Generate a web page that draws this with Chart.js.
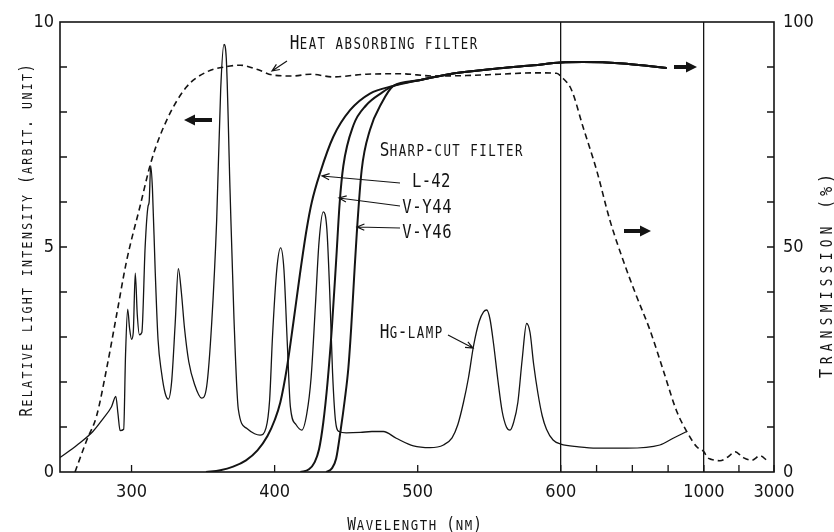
<!DOCTYPE html>
<html>
<head>
<meta charset="utf-8">
<title>Hg lamp and filters</title>
<script src="https://cdn.jsdelivr.net/npm/chart.js@4.4.1/dist/chart.umd.min.js"></script>
<style>
  html, body { margin: 0; padding: 0; background: #fff; }
  #wrap { width: 834px; height: 532px; position: relative; }
</style>
</head>
<body>
<div id="wrap"><canvas id="spectrumChart"></canvas></div>
<script>
// Hg lamp emission (left axis, arbitrary units)
const hgNm = [250, 262, 273, 280, 286, 289, 290.5, 292, 294.5, 295.8, 297.3, 298.6, 300, 301.2, 302.6, 304, 305.5, 307.2,
  309.5, 311.5, 312.3, 313.4, 314.6, 316.5, 318.5, 321, 323.5, 325.7, 328, 330.5, 332.7, 334.8, 337, 340, 344, 349,
  352.5, 356, 359.5, 362.3, 364.6, 366.2, 368.8, 371.6, 374.6, 380.4, 386, 389.8, 394, 396.5, 398.5, 401.5, 404.2,
  406.5, 408.8, 411, 415, 419, 422.5, 425.5, 428.5, 431, 434, 436.5, 438.5, 440.5, 442.5, 445, 450, 460, 468, 476,
  485, 497, 508.6, 518, 524, 528, 532, 535.5, 539, 543, 546, 548.2, 550.5, 553, 556, 559, 562, 564.5, 567, 570, 573,
  576.1, 578.5, 581, 584, 587, 590, 594.6, 600, 650, 700, 785, 877, 914, 952];
const hgIntensity = [0.32, 0.6, 0.9, 1.18, 1.45, 1.68, 1.3, 0.92, 0.95, 2.6, 3.62, 3.2, 2.95, 3.1, 4.42, 3.5, 3.05, 3.1,
  5.0, 5.9, 6.0, 6.8, 6.3, 4.5, 2.95, 2.2, 1.75, 1.62, 2.0, 3.3, 4.52, 4.0, 3.2, 2.45, 1.95, 1.64,
  1.9, 3.3, 5.6, 8.5, 9.5, 9.2, 6.3, 3.4, 1.4, 0.97, 0.85, 0.82, 0.98, 1.6, 3.0, 4.5, 4.98,
  4.5, 2.9, 1.45, 1.05, 0.93, 1.3, 2.1, 3.7, 5.1, 5.78, 5.4, 4.0, 2.2, 1.15, 0.9, 0.87, 0.88, 0.9, 0.9,
  0.75, 0.58, 0.54, 0.6, 0.76, 1.05, 1.55, 2.1, 2.8, 3.35, 3.56, 3.6, 3.4, 2.85, 2.05, 1.35, 1.0, 0.93, 1.1, 1.55, 2.5,
  3.3, 3.1, 2.4, 1.75, 1.25, 0.95, 0.71, 0.62, 0.56, 0.53, 0.53, 0.6, 0.75, 0.9];

// Heat absorbing filter transmission (right axis, %)
const heatNm = [260.5, 268.6, 275.6, 282.6, 289.6, 296.6, 305.9, 314, 324.6, 338.5, 352.5, 366.5, 376, 387.5, 399, 413,
  425, 441, 464, 488, 511, 534, 557, 581, 597, 602, 630, 662, 700, 737, 774, 812, 849, 886, 924, 952, 980, 1000,
  1100, 1220, 1457, 1695, 1886, 2124, 2362, 2600, 2810];
const heatPct = [0, 7, 12.5, 23, 35, 47, 59, 69.3, 78.2, 85.6, 88.9, 90.1, 90.4, 89.5, 88.2, 88,
  88.4, 87.8, 88.4, 88.5, 88, 88.1, 88.4, 88.7, 88.6, 87.8, 84.9, 76.7, 67.1, 56, 47.1, 39, 31.6, 22.7, 13.5, 9, 5.6, 4.5,
  3.2, 2.8, 2.5, 3.4, 4.5, 3.2, 2.6, 3.6, 2.5];

// Sharp-cut filters (right axis, %)
const l42Nm = [352, 362, 371, 380, 388, 395, 400, 404, 408.5, 413, 417.7, 422.4, 426, 431.7, 441, 452.7, 466.6];
const l42Pct = [0, 0.4, 1.2, 2.6, 4.8, 8, 11.5, 15.5, 23, 33, 44, 54, 60, 66.4, 74.5, 80.4, 84.1];
const vy44Nm = [418, 424, 428, 431, 434, 437, 440, 443, 445.5, 448, 455, 464, 475];
const vy44Pct = [0, 0.6, 2.2, 5, 11, 20, 32, 47, 60, 68, 77, 81.5, 84.3];
const vy46Nm = [436, 440, 443, 446, 449, 451.5, 453.5, 455.5, 457.4, 460.8, 466.6, 474.8];
const vy46Pct = [0, 0.8, 3, 9, 16, 23, 32, 43, 53, 67, 76, 82];
// shared upper part of the three filter curves
const commonNm = [483, 500, 520, 557, 581, 600, 662, 774, 840, 896];
const commonPct = [85.8, 87, 88.3, 89.7, 90.4, 91, 91.1, 90.8, 90.3, 89.8];

// Axis ticks
const tickNm = [300, 400, 500, 600, 700, 800, 900, 1000, 2000, 3000];
const labelNm = [300, 400, 500, 600, 1000, 3000];
const lineNm = [600, 1000];
const leftLabels = [0, 5, 10];
const rightLabels = [0, 50, 100];

// wavelength axis is broken: linear to 600, compressed 600-1000, more compressed 1000-3000
function toAxis(nm) {
    if (nm <= 600) return nm;
    if (nm <= 1000) return 600 + (nm - 600) / 4;
    return 700 + (nm - 1000) * 49 / 2000;
}
function fromAxis(u) {
    if (u <= 600) return u;
    if (u <= 700) return 600 + (u - 600) * 4;
    return 1000 + (u - 700) * 2000 / 49;
}
function points(nmArr, valArr) {
    return nmArr.map((nm, i) => ({ x: toAxis(nm), y: valArr[i] }));
}

const INK = '#141414';
const TEXT_FONT = "'DejaVu Sans Mono', monospace";
const NUM_FONT = "'Liberation Sans Narrow', 'DejaVu Sans Condensed', sans-serif";

// draws text in small caps, char by char with a fixed advance
function capsText(ctx, text, x0, y, adv, big, small, sx) {
    ctx.textAlign = 'center';
    ctx.textBaseline = 'alphabetic';
    for (let i = 0; i < text.length; i++) {
        const ch = text[i];
        if (ch === ' ') continue;
        const isSmall = ch !== ch.toUpperCase();
        ctx.save();
        ctx.translate(x0 + adv * (i + 0.5), y);
        ctx.scale(sx, 1);
        ctx.font = (isSmall ? small : big) + 'px ' + TEXT_FONT;
        ctx.fillText(ch.toUpperCase(), 0, 0);
        ctx.restore();
    }
}

function thinArrow(ctx, x1, y1, x2, y2) {
    const a = Math.atan2(y2 - y1, x2 - x1);
    ctx.beginPath();
    ctx.moveTo(x1, y1);
    ctx.lineTo(x2, y2);
    ctx.moveTo(x2 - 8 * Math.cos(a - 0.4), y2 - 8 * Math.sin(a - 0.4));
    ctx.lineTo(x2, y2);
    ctx.lineTo(x2 - 8 * Math.cos(a + 0.4), y2 - 8 * Math.sin(a + 0.4));
    ctx.stroke();
}

function boldArrow(ctx, xTail, xHead, y) {
    const dir = xHead > xTail ? 1 : -1;
    ctx.beginPath();
    ctx.lineWidth = 4;
    ctx.moveTo(xTail, y);
    ctx.lineTo(xHead - dir * 8, y);
    ctx.stroke();
    ctx.beginPath();
    ctx.moveTo(xHead, y);
    ctx.lineTo(xHead - dir * 11, y - 5.5);
    ctx.lineTo(xHead - dir * 11, y + 5.5);
    ctx.closePath();
    ctx.fill();
}

// frame, inward ticks, titles and notes
const notesPlugin = {
    id: 'notes',
    afterDraw(chart) {
        const ctx = chart.ctx;
        const area = chart.chartArea;
        const xs = chart.scales.x, ys = chart.scales.y, ys2 = chart.scales.y2;
        ctx.save();
        ctx.strokeStyle = INK;
        ctx.fillStyle = INK;
        ctx.lineWidth = 1.6;
        ctx.strokeRect(area.left, area.top, area.right - area.left, area.bottom - area.top);

        ctx.lineWidth = 1.3;
        ctx.beginPath();
        tickNm.forEach(nm => {
            const px = xs.getPixelForValue(toAxis(nm));
            ctx.moveTo(px, area.bottom);
            ctx.lineTo(px, area.bottom - 7);
        });
        for (let v = 1; v < 10; v++) {
            const py = ys.getPixelForValue(v);
            ctx.moveTo(area.left, py);
            ctx.lineTo(area.left + 7, py);
        }
        for (let v = 10; v < 100; v += 10) {
            const py = ys2.getPixelForValue(v);
            ctx.moveTo(area.right, py);
            ctx.lineTo(area.right - 7, py);
        }
        ctx.stroke();

        // axis titles
        capsText(ctx, 'Wavelength (nm)', 347, 530, 9, 17, 14.5, 0.85);
        ctx.save();
        ctx.translate(32, 417);
        ctx.rotate(-Math.PI / 2);
        capsText(ctx, 'Relative light intensity (arbit. unit)', 0, 0, 9.3, 17, 14, 0.82);
        ctx.restore();
        ctx.save();
        ctx.translate(832, 380);
        ctx.rotate(-Math.PI / 2);
        capsText(ctx, 'Transmission (%)', 0, 0, 13, 18, 15, 0.85);
        ctx.restore();

        // notes
        capsText(ctx, 'Heat absorbing filter', 290, 49, 8.95, 20, 15.5, 0.8);
        capsText(ctx, 'Sharp-cut filter', 380, 156, 8.95, 20, 15.5, 0.8);
        capsText(ctx, 'L-42', 412, 187, 9.6, 19, 15.5, 0.82);
        capsText(ctx, 'V-Y44', 402, 213, 10, 19, 15.5, 0.82);
        capsText(ctx, 'V-Y46', 402, 238, 10, 19, 15.5, 0.82);
        capsText(ctx, 'Hg-lamp', 380, 338, 9, 20, 15.5, 0.8);

        ctx.lineWidth = 1.2;
        thinArrow(ctx, 287, 61, 272, 71);
        thinArrow(ctx, 400, 183, 322, 176);
        thinArrow(ctx, 400, 206, 339, 198);
        thinArrow(ctx, 400, 228, 357, 227);
        thinArrow(ctx, 448, 335, 473, 348);

        boldArrow(ctx, 212, 184, 120);
        boldArrow(ctx, 674, 697, 67);
        boldArrow(ctx, 624, 651, 231);
        ctx.restore();
    }
};

const tickFont = { family: NUM_FONT, size: 18 };

new Chart(document.getElementById('spectrumChart'), {
    type: 'line',
    data: {
        datasets: [
            {
                label: 'Hg-lamp',
                data: points(hgNm, hgIntensity),
                yAxisID: 'y',
                borderColor: INK,
                borderWidth: 1.3
            },
            {
                label: 'Heat absorbing filter',
                data: points(heatNm, heatPct),
                yAxisID: 'y2',
                borderColor: INK,
                borderWidth: 1.6,
                borderDash: [6, 4]
            },
            {
                label: 'L-42',
                data: points(l42Nm.concat(commonNm), l42Pct.concat(commonPct)),
                yAxisID: 'y2',
                borderColor: INK,
                borderWidth: 2
            },
            {
                label: 'V-Y44',
                data: points(vy44Nm.concat(commonNm), vy44Pct.concat(commonPct)),
                yAxisID: 'y2',
                borderColor: INK,
                borderWidth: 2
            },
            {
                label: 'V-Y46',
                data: points(vy46Nm.concat(commonNm), vy46Pct.concat(commonPct)),
                yAxisID: 'y2',
                borderColor: INK,
                borderWidth: 2
            }
        ]
    },
    options: {
        responsive: true,
        maintainAspectRatio: false,
        animation: false,
        layout: { padding: { top: 22, left: 0, right: 0, bottom: 0 } },
        elements: {
            point: { radius: 0 },
            line: { cubicInterpolationMode: 'monotone', fill: false }
        },
        plugins: {
            legend: { display: false },
            tooltip: { enabled: false }
        },
        scales: {
            x: {
                type: 'linear',
                min: toAxis(250),
                max: toAxis(3000),
                afterFit: s => { s.height = 60; },
                afterBuildTicks: s => { s.ticks = tickNm.map(nm => ({ value: toAxis(nm) })); },
                ticks: {
                    autoSkip: false,
                    maxRotation: 0,
                    padding: 10,
                    color: INK,
                    font: tickFont,
                    callback: v => {
                        const nm = Math.round(fromAxis(v));
                        return labelNm.includes(nm) ? String(nm) : '';
                    }
                },
                grid: {
                    drawTicks: false,
                    lineWidth: 1.3,
                    color: c => (c.tick && lineNm.includes(Math.round(fromAxis(c.tick.value)))) ? INK : 'rgba(0,0,0,0)'
                },
                border: { display: false }
            },
            y: {
                position: 'left',
                min: 0,
                max: 10,
                afterFit: s => { s.width = 60; },
                ticks: {
                    stepSize: 1,
                    autoSkip: false,
                    padding: 6,
                    color: INK,
                    font: tickFont,
                    callback: v => leftLabels.includes(v) ? String(v) : ''
                },
                grid: { display: false, drawTicks: false },
                border: { display: false }
            },
            y2: {
                position: 'right',
                min: 0,
                max: 100,
                afterFit: s => { s.width = 60; },
                ticks: {
                    stepSize: 10,
                    autoSkip: false,
                    padding: 9,
                    color: INK,
                    font: tickFont,
                    callback: v => rightLabels.includes(v) ? String(v) : ''
                },
                grid: { display: false, drawTicks: false },
                border: { display: false }
            }
        }
    },
    plugins: [notesPlugin]
});
</script>
</body>
</html>
